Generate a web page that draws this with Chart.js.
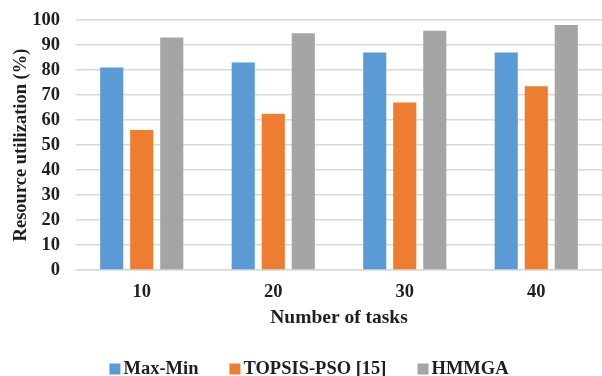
<!DOCTYPE html>
<html>
<head>
<meta charset="utf-8">
<script src="https://cdn.jsdelivr.net/npm/chart.js@4"></script>
<style>
  html, body { margin: 0; padding: 0; background: #fff; overflow: hidden; }
  #wrap { width: 602px; height: 376px; overflow: hidden; }
  canvas { display: block; }
</style>
</head>
<body>
<div id="wrap"><canvas id="c" width="602" height="390"></canvas></div>
<script>
// Resource utilization (%) by number of tasks
const taskCounts = ['10', '20', '30', '40'];
const maxMin = [81, 83, 87, 87];
const topsisPso = [56, 62.5, 67, 73.5];
const hmmga = [93, 94.7, 95.7, 98];
const seriesNames = ['Max-Min', 'TOPSIS-PSO [15]', 'HMMGA'];
const yTicks = [0, 10, 20, 30, 40, 50, 60, 70, 80, 90, 100];

const FONT = "'Liberation Serif', 'Times New Roman', serif";
const INK = '#1f1f1f';
const GRID = '#d9d9d9';

Chart.defaults.font.family = FONT;
Chart.defaults.font.weight = 'bold';
Chart.defaults.color = INK;

const barCommon = { barPercentage: 0.77, categoryPercentage: 0.685 };

// Compact legend row under the axis title: square swatch, tight gap, then the name
const compactLegend = {
  id: 'compactLegend',
  afterDraw(chart, args, opts) {
    const ctx = chart.ctx;
    const items = chart.data.datasets.map(ds => ({ text: ds.label, color: ds.backgroundColor }));
    ctx.save();
    ctx.font = `bold ${opts.size}px ${FONT}`;
    ctx.textBaseline = 'middle';
    ctx.textAlign = 'left';
    const widths = items.map(it => opts.box + opts.gap + ctx.measureText(it.text).width);
    const total = widths.reduce((a, b) => a + b, 0) + opts.spacing * (items.length - 1);
    let x = chart.width / 2 + opts.shift - total / 2;
    const y = opts.y;
    items.forEach((it, i) => {
      ctx.fillStyle = it.color;
      ctx.fillRect(x, y - opts.box / 2, opts.box, opts.box);
      ctx.fillStyle = INK;
      ctx.fillText(it.text, x + opts.box + opts.gap, y);
      x += widths[i] + opts.spacing;
    });
    ctx.restore();
  }
};

new Chart(document.getElementById('c'), {
  type: 'bar',
  data: {
    labels: taskCounts,
    datasets: [
      { label: seriesNames[0], data: maxMin, backgroundColor: '#5b9bd5', ...barCommon },
      { label: seriesNames[1], data: topsisPso, backgroundColor: '#ed7d31', ...barCommon },
      { label: seriesNames[2], data: hmmga, backgroundColor: '#a5a5a5', ...barCommon }
    ]
  },
  plugins: [compactLegend],
  options: {
    responsive: false,
    animation: false,
    layout: { padding: { top: 20, right: 0, left: 0, bottom: 52 } },
    plugins: {
      tooltip: { enabled: false },
      legend: { display: false },
      compactLegend: { size: 18.5, box: 11, gap: 3, spacing: 31, shift: 8, y: 369 }
    },
    scales: {
      x: {
        afterFit: (s) => { s.height = 68; },
        grid: { display: false, drawTicks: false },
        border: { display: true, color: GRID, width: 1.5 },
        ticks: { padding: 11, color: INK, font: { size: 18.5, weight: 'bold' } },
        title: {
          display: true,
          text: 'Number of tasks',
          color: INK,
          font: { size: 19.5, weight: 'bold' },
          padding: { top: 0, bottom: 8 }
        }
      },
      y: {
        min: 0,
        max: 100,
        afterFit: (s) => { s.width = 76; s.paddingTop = 0; s.paddingBottom = 0; },
        afterBuildTicks: (s) => { s.ticks = yTicks.map(v => ({ value: v })); },
        ticks: { autoSkip: false, padding: 16, color: INK, font: { size: 18.5, weight: 'bold' } },
        grid: { color: GRID, lineWidth: 1.5, drawTicks: false },
        border: { display: false },
        title: {
          display: true,
          text: 'Resource utilization (%)',
          color: INK,
          font: { size: 18.5, weight: 'bold' },
          padding: { top: 10, bottom: 0 }
        }
      }
    }
  }
});
</script>
</body>
</html>
